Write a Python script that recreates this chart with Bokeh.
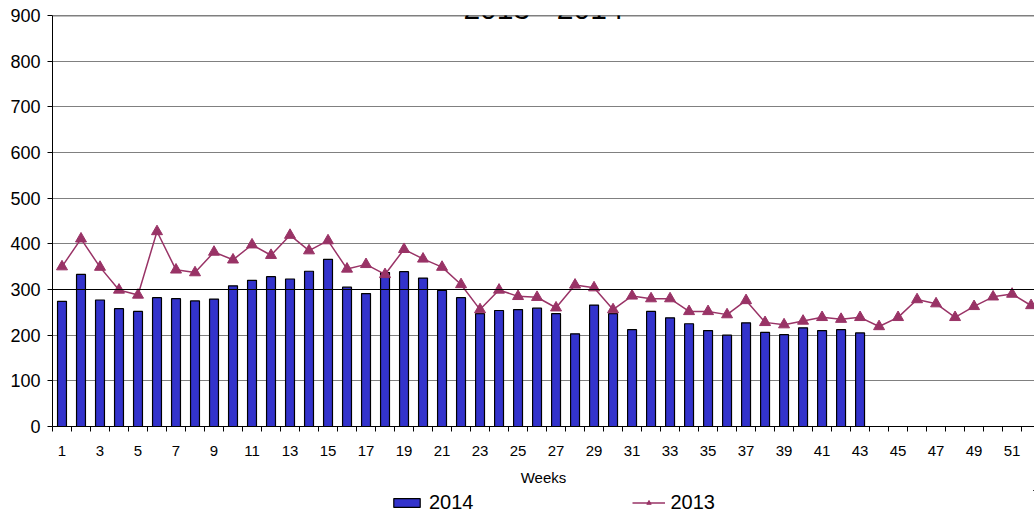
from bokeh.plotting import figure
from bokeh.layouts import column
from bokeh.models import Range1d, FixedTicker, Legend, LegendItem, Span, Label, ColumnDataSource
from bokeh.embed import file_html
from bokeh.resources import INLINE

weeks = list(range(1, 53))
weeks_2014 = list(range(1, 44))
sales_2014 = [274, 333, 277, 258, 252, 282, 280, 275, 279, 308,
              320, 328, 323, 340, 366, 305, 291, 337, 339, 325,
              298, 282, 247, 254, 256, 259, 247, 203, 266, 247,
              212, 252, 238, 225, 210, 200, 227, 206, 201, 216,
              210, 212, 205]
sales_2013 = [350, 411, 349, 299, 288, 427, 343, 337, 382, 365,
              398, 375, 419, 385, 407, 345, 355, 333, 388, 367,
              349, 311, 256, 299, 285, 283, 260, 310, 304, 256,
              286, 280, 280, 252, 252, 245, 276, 228, 223, 231,
              239, 235, 239, 219, 239, 278, 269, 239, 263, 284,
              290, 265]
x_tick_weeks = weeks[::2]
y_ticks = list(range(0, 1000, 100))
title_text = "2013 - 2014"

FONT = "Liberation Sans"
BAR_COLOR = "#3333CC"
LINE_COLOR = "#993366"

x_start = 0.5
x_end = 52.18

p = figure(width=1034, height=490, output_backend="svg", toolbar_location=None,
           x_range=Range1d(x_start, x_end), y_range=Range1d(0, 900),
           min_border_left=52, min_border_top=15, min_border_right=0, min_border_bottom=64)
p.outline_line_color = None
p.background_fill_color = "white"
p.border_fill_color = "white"

src14 = ColumnDataSource(dict(week=weeks_2014, value=sales_2014))
src13 = ColumnDataSource(dict(week=weeks, value=sales_2013))

p.xgrid.grid_line_color = None
p.ygrid.grid_line_color = "#808080"
p.ygrid.grid_line_width = 1

p.add_layout(Span(location=300, dimension="width", line_color="black", line_width=1))
p.add_layout(Span(location=900, dimension="width", line_color="black", line_width=1.5))

bar_style = dict(width=0.47, fill_color=BAR_COLOR, line_color="black", line_width=1.2)
line_style = dict(line_color=LINE_COLOR, line_width=1.5)
pt_style = dict(marker="triangle", size=11, fill_color=LINE_COLOR, line_color=LINE_COLOR)

p.vbar(x="week", top="value", source=src14, **bar_style)
p.line(x="week", y="value", source=src13, **line_style)
p.scatter(x="week", y="value", source=src13, **pt_style)

# x axis
p.xaxis.ticker = FixedTicker(ticks=x_tick_weeks, minor_ticks=[w + 0.5 for w in range(0, 53)])
p.xaxis.major_tick_out = 0
p.xaxis.major_tick_in = 0
p.xaxis.minor_tick_out = 5
p.xaxis.minor_tick_in = 0
p.xaxis.minor_tick_line_color = "black"
p.xaxis.major_label_standoff = 14
p.xaxis.major_label_text_font = FONT
p.xaxis.major_label_text_font_size = "15px"
p.xaxis.major_label_text_color = "black"
p.xaxis.axis_label = "Weeks"
p.xaxis.axis_label_text_font = FONT
p.xaxis.axis_label_text_font_size = "15px"
p.xaxis.axis_label_text_font_style = "normal"
p.xaxis.axis_label_text_color = "black"
p.xaxis.axis_label_standoff = 10
p.xaxis.axis_line_color = "black"

# y axis
p.yaxis.ticker = FixedTicker(ticks=y_ticks)
p.yaxis.major_tick_out = 5
p.yaxis.major_tick_in = 0
p.yaxis.minor_tick_out = 0
p.yaxis.minor_tick_in = 0
p.yaxis.major_label_standoff = 7
p.yaxis.major_label_text_font = FONT
p.yaxis.major_label_text_font_size = "18px"
p.yaxis.major_label_text_color = "black"
p.yaxis.axis_line_color = "black"
p.yaxis.major_tick_line_color = "black"

title = Label(x=(x_start + x_end) / 2, y=900, text=title_text, text_align="center",
              text_baseline="alphabetic", y_offset=7, text_font=FONT, text_font_size="30px",
              text_color="black")
p.add_layout(title)

# legend strip below the chart (same series, drawn out of view so only the legend shows)
lg = figure(width=1034, height=24, output_backend="svg", toolbar_location=None,
            x_range=Range1d(-20, -19), y_range=Range1d(-20, -19), min_border=0)
lg.axis.visible = False
lg.grid.visible = False
lg.outline_line_color = None
lg.background_fill_color = "white"
lg.border_fill_color = "white"
lb = lg.vbar(x="week", top="value", source=src14, **bar_style)
ll = lg.line(x="week", y="value", source=src13, **line_style)
lp = lg.scatter(x="week", y="value", source=src13, **pt_style)

legend = Legend(items=[LegendItem(label="2014", renderers=[lb]),
                       LegendItem(label="2013", renderers=[ll, lp])],
                orientation="horizontal", location=(338, 0),
                border_line_color=None, background_fill_alpha=0,
                glyph_width=33, glyph_height=11, label_standoff=6, spacing=158,
                padding=0, margin=0,
                label_text_font=FONT, label_text_font_size="20px", label_text_color="black")
lg.add_layout(legend, "center")

open("out.html", "w").write(file_html(column(p, lg, spacing=0), INLINE))
